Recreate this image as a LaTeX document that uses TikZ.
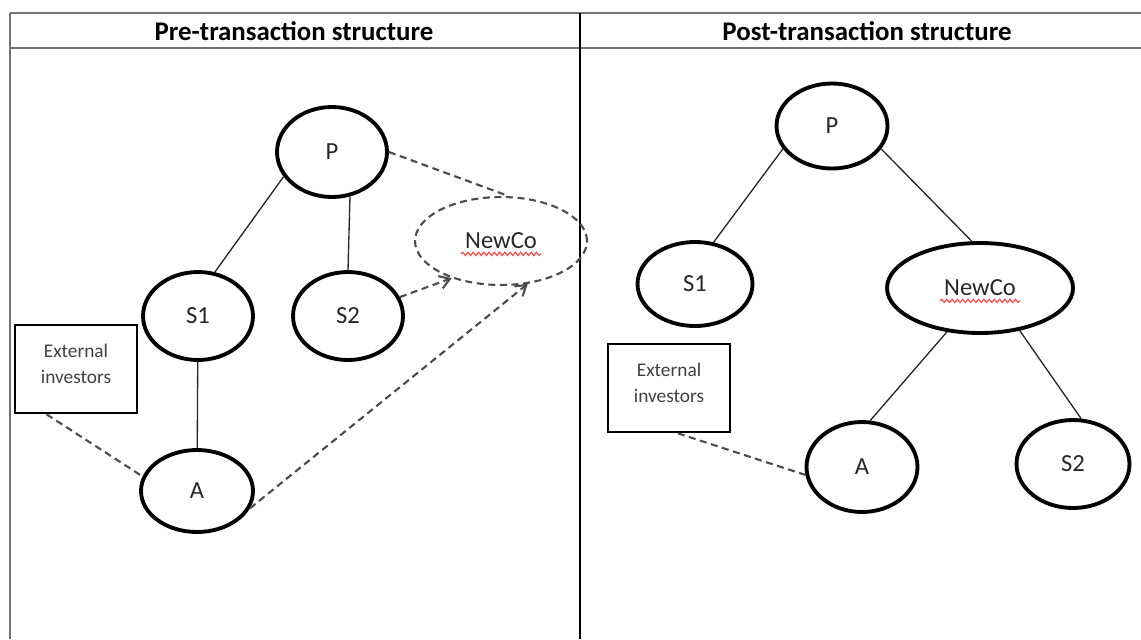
\documentclass[tikz,border=0pt]{standalone}
\usepackage{fontspec}
\setmainfont{Carlito}
\usetikzlibrary{shapes.geometric,arrows.meta,decorations.pathmorphing}

\begin{document}
\begin{tikzpicture}[x=0.02cm, y=-0.02cm,
    font=\fontsize{14}{16}\selectfont,
    entity/.style={ellipse, draw, line width=2.2pt, inner sep=0pt, text=black!85},
    newentity/.style={ellipse, draw=black!70, line width=1.2pt,
      dash pattern=on 4pt off 2.6pt, inner sep=0pt, text=black!85},
    investors/.style={rectangle, draw, line width=1.5pt,
      minimum width=2.44cm, minimum height=1.76cm, align=center,
      text depth=6pt, text=black!75, font=\fontsize{11}{15}\selectfont},
    ownline/.style={line width=0.75pt, black!85},
    plannedline/.style={line width=1.2pt, black!70, dash pattern=on 4pt off 2.6pt},
    barb/.style={-{Straight Barb[length=2mm, width=2.6mm]}},
    frameline/.style={line width=1.1pt, black!55},
    squiggle/.style={red!70, line width=0.7pt, decorate,
      decoration={snake, amplitude=0.9pt, segment length=3pt}}
  ]
    \useasboundingbox (0,0) rectangle (1141,639);

    % table frame
    \draw[frameline] (10,13) -- (1141,13);
    \draw[frameline] (10,48) -- (1141,48);
    \draw[frameline] (10,13) -- (10,639);
    \draw[line width=1.2pt] (580,13) -- (580,639);

    \node[font=\bfseries\fontsize{15.3}{18}\selectfont] (pre) at (294,31) {Pre-transaction structure};
    \node[font=\bfseries\fontsize{15.3}{18}\selectfont] (post) at (867,31) {Post-transaction structure};

    % before
    \node[entity, minimum width=2.2cm, minimum height=1.8cm] (p1) at (332,152) {P};
    \node[entity, minimum width=2.2cm, minimum height=1.76cm] (s11) at (198,316) {S1};
    \node[entity, minimum width=2.2cm, minimum height=1.76cm] (s21) at (348,316) {S2};
    \node[newentity, minimum width=3.44cm, minimum height=1.76cm] (newco1) at (501,241) {NewCo};
    \node[investors] (ext1) at (76,369) {External\\investors};
    \node[entity, minimum width=2.24cm, minimum height=1.64cm] (a1) at (197,491) {A};

    \draw[ownline] (p1.207) -- (s11.69);
    \draw[ownline] (p1.-68) -- (s21.north);
    \draw[ownline] (s11) -- (a1);
    \draw[plannedline, shorten >=0.1cm] (p1.east) -- (newco1.80);
    \draw[plannedline, barb] (s21) -- (newco1.217);
    \draw[plannedline, barb] (a1.-18) -- (newco1.302);
    \draw[plannedline] (ext1.237) -- (a1.165);
    \draw[squiggle] ([xshift=-0.8cm, yshift=-0.1cm]newco1.base) -- ([xshift=0.8cm, yshift=-0.1cm]newco1.base);

    % after
    \node[entity, minimum width=2.22cm, minimum height=1.7cm] (p2) at (832,126) {P};
    \node[entity, minimum width=2.3cm, minimum height=1.68cm] (s12) at (695,284) {S1};
    \node[entity, minimum width=3.72cm, minimum height=1.8cm] (newco2) at (980,288) {NewCo};
    \node[investors] (ext2) at (669,388) {External\\investors};
    \node[entity, minimum width=2.22cm, minimum height=1.8cm] (a2) at (862,467) {A};
    \node[entity, minimum width=2.26cm, minimum height=1.76cm] (s22) at (1073,464) {S2};

    \draw[ownline] (p2.205) -- (s12.66);
    \draw[ownline] (p2.-25) -- (newco2.100);
    \draw[ownline] (newco2.233) -- (a2.80);
    \draw[ownline] (newco2.-47) -- (s22.80);
    \draw[plannedline] (ext2.-79) -- (a2.188);
    \draw[squiggle] ([xshift=-0.8cm, yshift=-0.1cm]newco2.base) -- ([xshift=0.8cm, yshift=-0.1cm]newco2.base);
\end{tikzpicture}
\end{document}
